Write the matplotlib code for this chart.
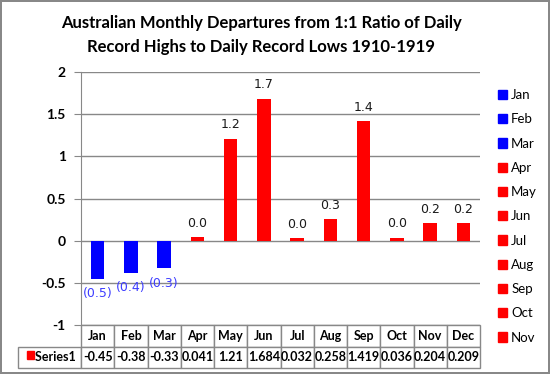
import numpy as np
import matplotlib.pyplot as plt
from matplotlib.patches import Patch

# 월별 값 (표에서 읽음)
months = ['Jan', 'Feb', 'Mar', 'Apr', 'May', 'Jun', 'Jul', 'Aug', 'Sep', 'Oct', 'Nov', 'Dec']
values = [-0.45, -0.38, -0.33, 0.041, 1.21, 1.684, 0.032, 0.258, 1.419, 0.036, 0.204, 0.209]
value_text = ['-0.45', '-0.38', '-0.33', '0.041', '1.21', '1.684', '0.032', '0.258', '1.419', '0.036', '0.204', '0.209']
legend_months = months[:11]  # Dec는 범례에서 잘림
yticks = [-1, -0.5, 0, 0.5, 1, 1.5, 2]
ytick_labels = ['-1', '-0.5', '0', '0.5', '1', '1.5', '2']

blue = '#0000ff'
red = '#ff0000'
grid_c = '#888888'
colors = [blue if v < 0 else red for v in values]

fig = plt.figure(figsize=(5.5, 3.74), dpi=100, edgecolor=grid_c, linewidth=1.5)
ax = fig.add_axes([81 / 550, 49 / 374, 399 / 550, 253 / 374])

x = np.arange(len(months))
bars = ax.bar(x, values, width=0.4, color=colors, zorder=3)

# 데이터 라벨: 음수는 괄호, 소수 한자리
for xi, v in zip(x, values):
    if v < 0:
        txt = '(%.1f)' % abs(v)
        ax.annotate(txt, (xi, v), xytext=(0, -11), textcoords='offset points',
                    ha='center', va='center', fontsize=9, color='#3d3dff')
    else:
        txt = '%.1f' % v
        ax.annotate(txt, (xi, v), xytext=(0, 10), textcoords='offset points',
                    ha='center', va='center', fontsize=9, color='#1a1a1a')

ax.set_xlim(-0.5, len(months) - 0.5)
ax.set_ylim(-1, 2)
ax.set_yticks(yticks)
ax.set_yticklabels(ytick_labels, fontfamily='Lato', fontweight='bold', fontsize=10)
ax.tick_params(axis='y', length=5, color=grid_c, pad=6)
ax.set_xticks([])
ax.yaxis.grid(True, color=grid_c, linewidth=1, zorder=0)
for s in ['top', 'right', 'bottom']:
    ax.spines[s].set_visible(False)
ax.spines['left'].set_color(grid_c)

# 아래 표 (bbox는 데이터 칸만 포함, 행 라벨은 왼쪽으로 나감)
tbl = ax.table(cellText=[value_text], rowLabels=['    Series1'], colLabels=months,
               cellLoc='center', rowLoc='center',
               bbox=[0, -43 / 253, 1, 43 / 253])
tbl.auto_set_font_size(False)
for (r, c), cell in tbl.get_celld().items():
    cell.set_edgecolor(grid_c)
    cell.set_linewidth(1)
    cell.set_width(59 / 399 if c == -1 else 1 / 12)
    cell.set_height(21.5 / 253)
    cell.get_text().set_fontfamily('Lato')
    cell.get_text().set_fontsize(9)
    cell.get_text().set_fontweight('bold')
fig.patches.append(plt.Rectangle((27 / 550, 15 / 374), 7 / 550, 8 / 374,
                                 transform=fig.transFigure, color=red, figure=fig))

# 범례
handles = [Patch(color=blue if values[i] < 0 else red, label=m) for i, m in enumerate(legend_months)]
leg = fig.legend(handles=handles, loc='upper left', bbox_to_anchor=(498 / 550, 1 - 89 / 374),
                 frameon=False, handlelength=0.7, handleheight=0.7, handletextpad=0.3,
                 labelspacing=0.93, prop={'family': 'Lato', 'size': 9.5}, borderaxespad=0,
                 borderpad=0)

fig.text(261 / 550, 1 - 23 / 374, 'Australian Monthly Departures from 1:1 Ratio of Daily',
         ha='center', va='center', fontfamily='Lato', fontweight='bold', fontsize=12)
fig.text(261 / 550, 1 - 47 / 374, 'Record Highs to Daily Record Lows 1910-1919',
         ha='center', va='center', fontfamily='Lato', fontweight='bold', fontsize=12)

fig.savefig('out.png', dpi=100)
